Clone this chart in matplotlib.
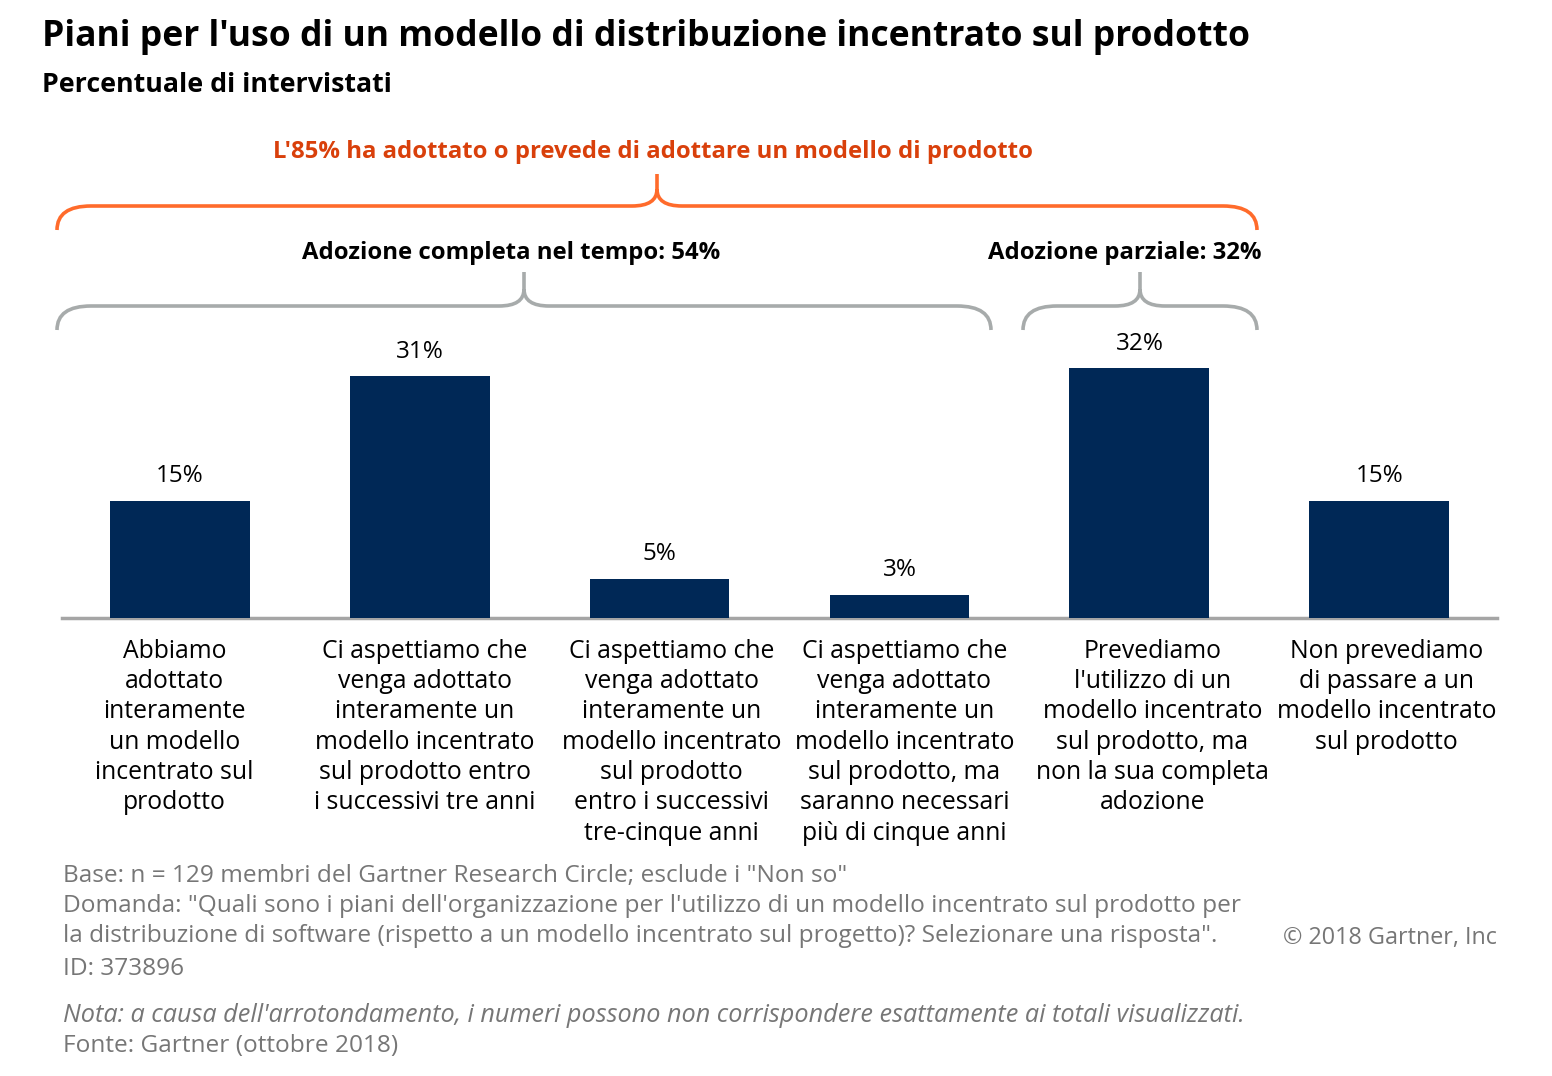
import matplotlib
matplotlib.use('Agg')
import matplotlib.pyplot as plt
from matplotlib.path import Path
from matplotlib.patches import PathPatch
from matplotlib.transforms import Affine2D

# data
categories = [
    "Abbiamo\nadottato\ninteramente\nun modello\nincentrato sul\nprodotto",
    "Ci aspettiamo che\nvenga adottato\ninteramente un\nmodello incentrato\nsul prodotto entro\ni successivi tre anni",
    "Ci aspettiamo che\nvenga adottato\ninteramente un\nmodello incentrato\nsul prodotto\nentro i successivi\ntre-cinque anni",
    "Ci aspettiamo che\nvenga adottato\ninteramente un\nmodello incentrato\nsul prodotto, ma\nsaranno necessari\npiù di cinque anni",
    "Prevediamo\nl'utilizzo di un\nmodello incentrato\nsul prodotto, ma\nnon la sua completa\nadozione",
    "Non prevediamo\ndi passare a un\nmodello incentrato\nsul prodotto",
]
values = [15, 31, 5, 3, 32, 15]
value_labels = ["15%", "31%", "5%", "3%", "32%", "15%"]

title = "Piani per l'uso di un modello di distribuzione incentrato sul prodotto"
subtitle = "Percentuale di intervistati"
top_note = "L'85% ha adottato o prevede di adottare un modello di prodotto"
group_labels = ["Adozione completa nel tempo: 54%", "Adozione parziale: 32%"]
footer_lines = [
    'Base: n = 129 membri del Gartner Research Circle; esclude i "Non so"',
    'Domanda: "Quali sono i piani dell\'organizzazione per l\'utilizzo di un modello incentrato sul prodotto per',
    'la distribuzione di software (rispetto a un modello incentrato sul progetto)? Selezionare una risposta".',
]

W, H = 1552, 1076
FONT = 'Open Sans'
NAVY = '#002856'
ORANGE = '#FF6B2B'
ORANGE_TXT = '#D9400B'
GREY_BRACE = '#A7ABAB'
GREY_TXT = '#767676'

plt.rcParams['font.family'] = [FONT, 'DejaVu Sans']

fig = plt.figure(figsize=(W / 100, H / 100), dpi=100)


def fx(x):
    return x / W


def fy(y):
    return 1 - y / H


# axes: baseline at y=618 px, x from 62 to 1497 px
ax = fig.add_axes([fx(62), fy(618), (1497 - 62) / W, (618 - 100) / H])
x = list(range(len(values)))
ax.bar(x, values, width=0.583, color=NAVY, zorder=3)
ax.set_xlim(-0.49, 5.49)
ax.set_ylim(0, 518 / 7.8)
for s in ['top', 'left', 'right']:
    ax.spines[s].set_visible(False)
ax.spines['bottom'].set_color('#A5A5A5')
ax.spines['bottom'].set_linewidth(2.5)
ax.set_xticks([])
ax.set_yticks([])

for xi, v, lab in zip(x, values, value_labels):
    ax.annotate(lab, (xi, v), xytext=(0, 9), textcoords='offset points',
                ha='center', va='bottom', fontsize=17.5, color='black')

# small horizontal shifts of the wrapped labels (pixels)
label_shift = [-5, 5, 12, 5, 13, 7]
for xi, cat, sh in zip(x, categories, label_shift):
    ax.text(xi + sh / 240, -0.04, cat, transform=ax.get_xaxis_transform(),
            ha='center', va='top', fontsize=17.8, linespacing=1.28)

# braces drawn in pixel coordinates (origin top-left)
pix = Affine2D().scale(1 / 100, -1 / 100).translate(0, H / 100) + fig.dpi_scale_trans


def brace(x0, x1, xc, tip_y, mid_y, top_y, color, r=34, rc=25):
    rv = tip_y - mid_y
    verts = [
        (x0, tip_y), (x0, mid_y), (x0 + r, mid_y),
        (xc - rc, mid_y),
        (xc, mid_y), (xc, mid_y - rv * 0.7),
        (xc, top_y),
        (xc, mid_y - rv * 0.7),
        (xc, mid_y), (xc + rc, mid_y),
        (x1 - r, mid_y),
        (x1, mid_y), (x1, tip_y),
    ]
    codes = [Path.MOVETO, Path.CURVE3, Path.CURVE3,
             Path.LINETO,
             Path.CURVE3, Path.CURVE3,
             Path.LINETO,
             Path.MOVETO,
             Path.CURVE3, Path.CURVE3,
             Path.LINETO,
             Path.CURVE3, Path.CURVE3]
    p = PathPatch(Path(verts, codes), transform=pix, fill=False,
                  edgecolor=color, linewidth=2.6, capstyle='butt')
    fig.add_artist(p)


brace(57, 1257, 657, 230, 206, 174, ORANGE)
brace(57, 991, 524, 330, 306, 272, GREY_BRACE)
brace(1023, 1257, 1140, 330, 306, 272, GREY_BRACE)

# texts
fig.text(fx(42), fy(37), title, fontsize=25.6, fontweight='bold', va='center', ha='left')
fig.text(fx(42), fy(85), subtitle, fontsize=19.3, fontweight='bold', va='center', ha='left')
fig.text(fx(653), fy(152), top_note, fontsize=17.2, fontweight='bold',
         color=ORANGE_TXT, va='center', ha='center')
fig.text(fx(511), fy(253), group_labels[0], fontsize=17.2, fontweight='bold', va='center', ha='center')
fig.text(fx(1125), fy(253), group_labels[1], fontsize=17.2, fontweight='bold', va='center', ha='center')

FS = 17.6
for i, line in enumerate(footer_lines):
    fig.text(fx(63), fy(876 + 30 * i), line, fontsize=FS, color=GREY_TXT, va='center', ha='left')
fig.text(fx(63), fy(969), "ID: 373896", fontsize=FS, color=GREY_TXT, va='center', ha='left')
fig.text(fx(1497), fy(938), "© 2018 Gartner, Inc", fontsize=16.8, color=GREY_TXT, va='center', ha='right')
fig.text(fx(63), fy(1016),
         "Nota: a causa dell'arrotondamento, i numeri possono non corrispondere esattamente ai totali visualizzati.",
         fontsize=18.2, color=GREY_TXT, style='italic', va='center', ha='left')
fig.text(fx(63), fy(1046), "Fonte: Gartner (ottobre 2018)", fontsize=FS, color=GREY_TXT, va='center', ha='left')

fig.savefig('out.png', dpi=100, facecolor='white')
